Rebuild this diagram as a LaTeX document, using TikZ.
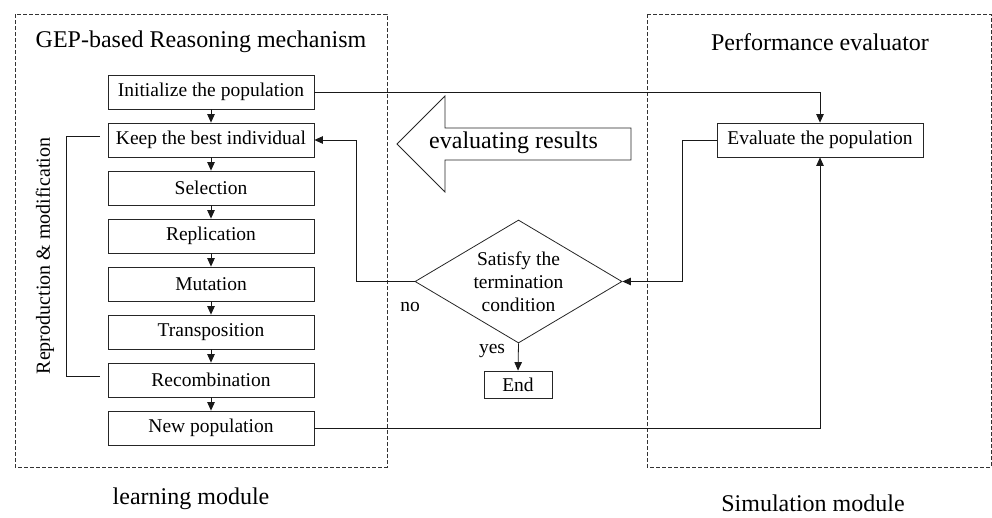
\documentclass[tikz,border=0pt]{standalone}
\usepackage{fontspec}
\setmainfont{Liberation Serif}
\usetikzlibrary{arrows.meta,shapes.geometric,positioning}
\begin{document}
\begin{tikzpicture}[x=1pt,y=-1pt,
  stepbox/.style={draw=black!85,line width=0.8pt,minimum width=206pt,minimum height=34pt,inner sep=0pt,font=\fontsize{19.5}{22}\selectfont},
  arr/.style={draw=black!90,line width=0.8pt,-{Triangle[length=8.5pt,width=7.5pt]}},
  ln/.style={draw=black!90,line width=0.8pt},
  frame/.style={draw=black!80,line width=0.6pt,dash pattern=on 4pt off 2pt},
  bigtxt/.style={font=\fontsize{24}{28}\selectfont},
  smalltxt/.style={font=\fontsize{19.5}{23}\selectfont}]
\useasboundingbox (0,0) rectangle (992,517);
% frames
\draw[frame] (15,14) rectangle (387,467);
\draw[frame] (647,14) rectangle (991,467);
\node[bigtxt] (t1) at (201,42) {GEP-based Reasoning mechanism};
\node[bigtxt] (t2) at (820,42) {Performance evaluator};
\node[bigtxt,inner sep=0pt] (lm) at (191,499) {learning module};
\node[bigtxt,inner sep=0pt] (sm) at (813,503) {Simulation module};
% steps
\node[stepbox] (init) at (211,92) {Initialize the population};
\node[stepbox] (keep) at (211,140) {Keep the best individual};
\node[stepbox] (sel) at (211,188) {Selection};
\node[stepbox] (rep) at (211,236) {Replication};
\node[stepbox] (mut) at (211,284) {Mutation};
\node[stepbox] (tra) at (211,332) {Transposition};
\node[stepbox] (rec) at (211,380) {Recombination};
\node[stepbox] (newp) at (211,428) {New population};
\foreach \a/\b in {init/keep,keep/sel,sel/rep,rep/mut,mut/tra,tra/rec,rec/newp}
  \draw[arr] (\a.south) -- (\b.north);
% bracket
\draw[ln] ([shift={(-8pt,4pt)}]keep.west) -- ++(-33pt,0) |- ([shift={(-8pt,4pt)}]rec.west);
\node[font=\fontsize{20}{24}\selectfont,rotate=90] (rm) at (45,256) {Reproduction \& modification};
% evaluator
\node[stepbox] (eval) at (820,140) {Evaluate the population};
% diamond
\node[diamond,draw=black!85,line width=0.8pt,minimum width=207pt,minimum height=123pt,inner sep=0pt] (dia) at (518.5,281.5) {};
\node[smalltxt,align=center] (diat) at (dia) {Satisfy the\\termination\\condition};
\node[draw=black!85,line width=0.8pt,minimum width=68pt,minimum height=27pt,inner sep=0pt,smalltxt] (end) at (518,384.5) {End};
% big arrow
\draw[line width=0.8pt,draw=black!85] (631,128) -- (445,128) -- (445,96) -- (397,144) -- (445,192) -- (445,160) -- (631,160) -- cycle;
\node[bigtxt] (er) at (513.5,143) {evaluating results};
% connectors
\draw[arr] (init.east) -| (eval.north);
\draw[arr] (newp.east) -| (eval.south);
\draw[arr] (eval.west) -- ++(-34pt,0) |- (dia.east);
\draw[arr] (dia.west) -- ++(-58pt,0) |- (keep.east);
\draw[arr] (dia.south) -- (end.north);
\node[smalltxt] (no) at (410,307) {no};
\node[smalltxt] (yes) at (492,351) {yes};
\end{tikzpicture}
\end{document}
